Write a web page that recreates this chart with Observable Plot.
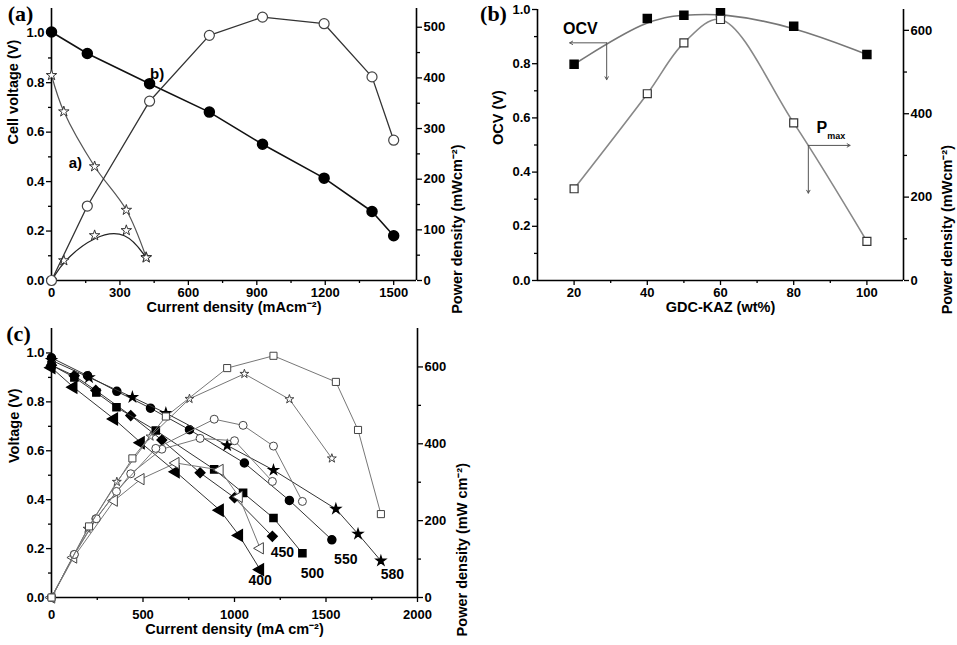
<!DOCTYPE html>
<html>
<head>
<meta charset="utf-8">
<script src="https://cdn.jsdelivr.net/npm/d3@7"></script>
<script src="https://cdn.jsdelivr.net/npm/@observablehq/plot@0.6"></script>
<style>
html,body{margin:0;padding:0;background:#fff;}
#wrap{position:relative;width:957px;height:645px;overflow:hidden;background:#fff;}
#wrap svg{position:absolute;}
</style>
</head>
<body>
<div id="wrap"></div>
<script>
// ---------------- Panel (a) data ----------------
const aXDomain = [0, 1600];
const aVDomain = [0, 1.1];
const aPDomain = [0, 537];
const aXTicks = [0, 300, 600, 900, 1200, 1500];
const aXMinor = [150, 450, 750, 1050, 1350];
const aVTicks = [0, 0.2, 0.4, 0.6, 0.8, 1.0];
const aVMinor = [0.1, 0.3, 0.5, 0.7, 0.9];
const aPTicks = [0, 100, 200, 300, 400, 500];
const aPMinor = [50, 150, 250, 350, 450];
const aCurrentA = [0, 54, 189, 328, 415];
const aVoltA = [0.83, 0.683, 0.461, 0.285, 0.094];
const aPowerA = [0, 39.5, 89, 99, 45];
const aCurrentB = [0, 157, 430, 692, 925, 1195, 1405, 1500];
const aVoltB = [1.005, 0.918, 0.796, 0.681, 0.551, 0.414, 0.279, 0.181];
const aPowerB = [0, 147, 354, 484, 520, 507, 402, 277];
const aNoteX = [105, 463];
const aNoteY = [0.476, 0.833];
const aNoteText = ["a)", "b)"];

// ---------------- Panel (b) data ----------------
const bXDomain = [10, 110];
const bVDomain = [0, 1.0];
const bPDomain = [0, 650];
const bXTicks = [20, 40, 60, 80, 100];
const bXMinor = [30, 50, 70, 90];
const bVTicks = [0, 0.2, 0.4, 0.6, 0.8, 1.0];
const bVMinor = [0.1, 0.3, 0.5, 0.7, 0.9];
const bPTicks = [0, 200, 400, 600];
const bPMinor = [100, 300, 500];
const bWt = [20, 40, 50, 60, 80, 100];
const bOCV = [0.798, 0.967, 0.979, 0.988, 0.938, 0.834];
const bPmax = [220, 448, 570, 626, 378, 94];
const bOcvArrowX1 = [28.9, 28.9], bOcvArrowY1 = [0.877, 0.877];
const bOcvArrowX2 = [18.8, 28.9], bOcvArrowY2 = [0.877, 0.741];
const bPArrowX1 = [84, 84], bPArrowY1 = [324, 324];
const bPArrowX2 = [95.4, 84], bPArrowY2 = [324, 209.5];
const bOcvLabel = {x: 21.7, y: 0.93, t: "OCV"};
const bPLabel = {x: 87.7, y: 365, t: "P"};
const bPSubLabel = {x: 91.6, y: 346, t: "max"};

// ---------------- Panel (c) data ----------------
const cXDomain = [0, 2000];
const cVDomain = [0, 1.1];
const cPDomain = [0, 700];
const cXTicks = [0, 500, 1000, 1500, 2000];
const cXMinor = [250, 750, 1250, 1750];
const cVTicks = [0, 0.2, 0.4, 0.6, 0.8, 1.0];
const cVMinor = [0.1, 0.3, 0.5, 0.7, 0.9];
const cPTicks = [0, 200, 400, 600];
const cPMinor = [100, 300, 500];
const c400I = [0, 120, 342, 488, 679, 920, 1025, 1140];
const c400V = [0.94, 0.86, 0.73, 0.633, 0.514, 0.357, 0.254, 0.114];
const c400P = [0, 104, 252, 308, 350, 332, 262, 128];
const c450I = [0, 124, 242, 433, 603, 812, 1000, 1207];
const c450V = [0.95, 0.907, 0.847, 0.744, 0.644, 0.51, 0.408, 0.25];
const c450P = [0, 112, 205, 322, 386, 414, 408, 302];
const c500I = [0, 125, 245, 355, 570, 889, 1047, 1213, 1371];
const c500V = [0.95, 0.9, 0.838, 0.778, 0.683, 0.524, 0.428, 0.325, 0.181];
const c500P = [0, 112, 205, 276, 388, 464, 448, 394, 250];
const c550I = [0, 197, 357, 541, 754, 1054, 1300, 1532];
const c550V = [0.98, 0.907, 0.843, 0.774, 0.686, 0.55, 0.397, 0.236];
const c550P = [0, 179, 301, 419, 517, 582, 516, 362];
const c580I = [0, 205, 442, 625, 960, 1213, 1554, 1675, 1800];
const c580V = [0.97, 0.90, 0.819, 0.754, 0.622, 0.521, 0.362, 0.26, 0.15];
const c580P = [0, 185, 362, 471, 597, 629, 561, 436, 217];
const cTempText = ["400", "450", "500", "550", "580"];
const cTempX = [1140, 1262, 1426, 1608, 1863];
const cTempY = [0.069, 0.185, 0.10, 0.155, 0.093];

// ---------------- helpers ----------------
const FONT = "'Liberation Sans', Arial, Helvetica, sans-serif";
const SERIF = "'Liberation Serif', 'Times New Roman', serif";
const fmt1 = d3.format(".1f");
const fmt0 = d3.format("d");
const rows = (xs, ys) => xs.map((x, i) => ({x, y: ys[i]}));
const notes = (xs, ys, ts) => xs.map((x, i) => ({x, y: ys[i], t: ts[i]}));
const arrows = (x1, y1, x2, y2) => x1.map((x, i) => ({x1: x, y1: y1[i], x2: x2[i], y2: y2[i]}));
const wrap = document.getElementById("wrap");
function place(svg, left, top) { svg.style.left = left + "px"; svg.style.top = top + "px"; wrap.appendChild(svg); }
const baseStyle = {fontFamily: FONT, fontSize: "13px", fontWeight: "bold", background: "transparent", overflow: "visible", color: "#000"};

function xAxis(major, minor, pad = 2) {
  return [
    Plot.axisX({ticks: major, tickSize: 5, tickPadding: pad, tickFormat: fmt0, label: null, strokeWidth: 1.3, fontSize: 13, fontWeight: "bold"}),
    Plot.axisX({ticks: minor, tickSize: 3, tickFormat: () => "", label: null, strokeWidth: 1.3})
  ];
}
function yAxis(anchor, major, minor, format) {
  return [
    Plot.axisY({anchor, ticks: major, tickSize: 5, tickPadding: 2, tickFormat: format, label: null, strokeWidth: 1.3, fontSize: 13, fontWeight: "bold"}),
    Plot.axisY({anchor, ticks: minor, tickSize: 3, tickFormat: () => "", label: null, strokeWidth: 1.3})
  ];
}
function title(text, frameAnchor, dx, dy, rotate) {
  return Plot.text([text], {text: d => d, frameAnchor, dx, dy, rotate, fontSize: 14.5, fontWeight: "bold", fontFamily: FONT});
}
function panelLabel(text, dx, dy) {
  return Plot.text([text], {text: d => d, frameAnchor: "top-left", dx, dy, textAnchor: "middle", lineAnchor: "middle", fontFamily: SERIF, fontSize: 22, fontWeight: "bold"});
}

// ---------------- Panel (a) ----------------
const aDims = {width: 480, height: 320, marginLeft: 51, marginRight: 64, marginTop: 8, marginBottom: 40};
place(Plot.plot({
  ...aDims, style: baseStyle,
  x: {domain: aXDomain}, y: {domain: aVDomain},
  marks: [
    ...xAxis(aXTicks, aXMinor),
    ...yAxis("left", aVTicks, aVMinor, fmt1),
    Plot.ruleX(aXDomain, {strokeWidth: 1.6}),
    Plot.ruleY([aVDomain[0]], {strokeWidth: 1.6}),
    Plot.line(rows(aCurrentA, aVoltA), {x: "x", y: "y", curve: "catmull-rom", stroke: "#555", strokeWidth: 1.2}),
    Plot.dot(rows(aCurrentA, aVoltA), {x: "x", y: "y", symbol: "star", r: 3.3, fill: "white", stroke: "#333", strokeWidth: 1}),
    Plot.line(rows(aCurrentB, aVoltB), {x: "x", y: "y", stroke: "#111", strokeWidth: 1.6}),
    Plot.dot(rows(aCurrentB, aVoltB), {x: "x", y: "y", r: 5, fill: "#000", stroke: "#000"}),
    Plot.text(notes(aNoteX, aNoteY, aNoteText), {x: "x", y: "y", text: "t", fontSize: 15, fontWeight: "bold"}),
    title("Cell voltage (V)", "left", -38, 0, -90),
    title("Current density (mAcm⁻²)", "bottom", 0, 31.7, 0),
    panelLabel("(a)", -31, 5)
  ]
}), 0, 0);
place(Plot.plot({
  ...aDims, style: baseStyle,
  x: {domain: aXDomain, axis: null}, y: {domain: aPDomain},
  marks: [
    ...yAxis("right", aPTicks, aPMinor, fmt0),
    Plot.line(rows(aCurrentA, aPowerA), {x: "x", y: "y", curve: "basis", stroke: "#222", strokeWidth: 1.3}),
    Plot.dot(rows(aCurrentA, aPowerA), {x: "x", y: "y", symbol: "star", r: 3.3, fill: "white", stroke: "#333", strokeWidth: 1}),
    Plot.line(rows(aCurrentB, aPowerB), {x: "x", y: "y", stroke: "#333", strokeWidth: 1.3}),
    Plot.dot(rows(aCurrentB, aPowerB), {x: "x", y: "y", r: 5, fill: "white", stroke: "#444", strokeWidth: 1.2}),
    title("Power density (mWcm⁻²)", "right", 41, 0, -90)
  ]
}), 0, 0);

// ---------------- Panel (b) ----------------
const bDims = {width: 477, height: 320, marginLeft: 57, marginRight: 54, marginTop: 9, marginBottom: 40};
place(Plot.plot({
  ...bDims, style: baseStyle,
  x: {domain: bXDomain}, y: {domain: bVDomain},
  marks: [
    ...xAxis(bXTicks, bXMinor),
    ...yAxis("left", bVTicks, bVMinor, fmt1),
    Plot.ruleX(bXDomain, {strokeWidth: 1.6}),
    Plot.ruleY([bVDomain[0]], {strokeWidth: 1.6}),
    Plot.line(rows(bWt, bOCV), {x: "x", y: "y", curve: "basis", stroke: "#777", strokeWidth: 1.6}),
    Plot.dot(rows(bWt, bOCV), {x: "x", y: "y", symbol: "square", r: 4.5, fill: "#000", stroke: "#000"}),
    Plot.arrow(arrows(bOcvArrowX1, bOcvArrowY1, bOcvArrowX2, bOcvArrowY2), {x1: "x1", y1: "y1", x2: "x2", y2: "y2", stroke: "#555", strokeWidth: 1, headLength: 5}),
    Plot.text([bOcvLabel], {x: "x", y: "y", text: "t", fontSize: 16, fontWeight: "bold"}),
    title("OCV (V)", "left", -39, 0, -90),
    title("GDC-KAZ (wt%)", "bottom", 0, 31.7, 0),
    panelLabel("(b)", -44, 4)
  ]
}), 480, 0);
place(Plot.plot({
  ...bDims, style: baseStyle,
  x: {domain: bXDomain, axis: null}, y: {domain: bPDomain},
  marks: [
    ...yAxis("right", bPTicks, bPMinor, fmt0),
    Plot.line(rows(bWt, bPmax), {x: "x", y: "y", curve: "catmull-rom", stroke: "#888", strokeWidth: 1.6}),
    Plot.dot(rows(bWt, bPmax), {x: "x", y: "y", symbol: "square", r: 4.5, fill: "white", stroke: "#333", strokeWidth: 1.2}),
    Plot.arrow(arrows(bPArrowX1, bPArrowY1, bPArrowX2, bPArrowY2), {x1: "x1", y1: "y1", x2: "x2", y2: "y2", stroke: "#555", strokeWidth: 1, headLength: 5}),
    Plot.text([bPLabel], {x: "x", y: "y", text: "t", fontSize: 16, fontWeight: "bold"}),
    Plot.text([bPSubLabel], {x: "x", y: "y", text: "t", fontSize: 9, fontWeight: "bold"}),
    title("Power density (mWcm⁻²)", "right", 44, 0, -90)
  ]
}), 480, 0);

// ---------------- Panel (c) ----------------
const cDims = {width: 480, height: 325, marginLeft: 51, marginRight: 63, marginTop: 8, marginBottom: 48};
const cSeries = [
  {I: c400I, V: c400V, P: c400P, vSym: "triangle", vRot: -90, vR: 4.2, pSym: "triangle", pRot: -90, pR: 4.2},
  {I: c450I, V: c450V, P: c450P, vSym: "square", vRot: 45, vR: 3.8, pSym: "circle", pRot: 0, pR: 4},
  {I: c500I, V: c500V, P: c500P, vSym: "square", vRot: 0, vR: 4, pSym: "circle", pRot: 0, pR: 4},
  {I: c550I, V: c550V, P: c550P, vSym: "circle", vRot: 0, vR: 4, pSym: "star", pRot: 0, pR: 2.8},
  {I: c580I, V: c580V, P: c580P, vSym: "star", vRot: 0, vR: 2.8, pSym: "square", pRot: 0, pR: 4}
];
place(Plot.plot({
  ...cDims, style: baseStyle,
  x: {domain: cXDomain}, y: {domain: cVDomain},
  marks: [
    ...xAxis(cXTicks, cXMinor, 7),
    ...yAxis("left", cVTicks, cVMinor, fmt1),
    Plot.ruleX(cXDomain, {strokeWidth: 1.6}),
    Plot.ruleY([cVDomain[0]], {strokeWidth: 1.6}),
    ...cSeries.flatMap(s => [
      Plot.line(rows(s.I, s.V), {x: "x", y: "y", stroke: "#333", strokeWidth: 1}),
      Plot.dot(rows(s.I, s.V), {x: "x", y: "y", symbol: s.vSym, rotate: s.vRot, r: s.vR, fill: "#000", stroke: "#000"})
    ]),
    Plot.text(notes(cTempX, cTempY, cTempText), {x: "x", y: "y", text: "t", fontSize: 14, fontWeight: "bold"}),
    title("Voltage (V)", "left", -37, 0, -90),
    title("Current density (mA cm⁻²)", "bottom", 0, 36.3, 0),
    panelLabel("(c)", -33, 5)
  ]
}), 0, 320);
place(Plot.plot({
  ...cDims, style: baseStyle,
  x: {domain: cXDomain, axis: null}, y: {domain: cPDomain},
  marks: [
    ...yAxis("right", cPTicks, cPMinor, fmt0),
    ...cSeries.flatMap(s => [
      Plot.line(rows(s.I, s.P), {x: "x", y: "y", stroke: "#777", strokeWidth: 1}),
      Plot.dot(rows(s.I, s.P), {x: "x", y: "y", symbol: s.pSym, rotate: s.pRot, r: s.pR, fill: "white", stroke: "#444", strokeWidth: 1})
    ]),
    title("Power density (mW cm⁻²)", "right", 45, 0, -90)
  ]
}), 0, 320);
</script>
</body>
</html>
